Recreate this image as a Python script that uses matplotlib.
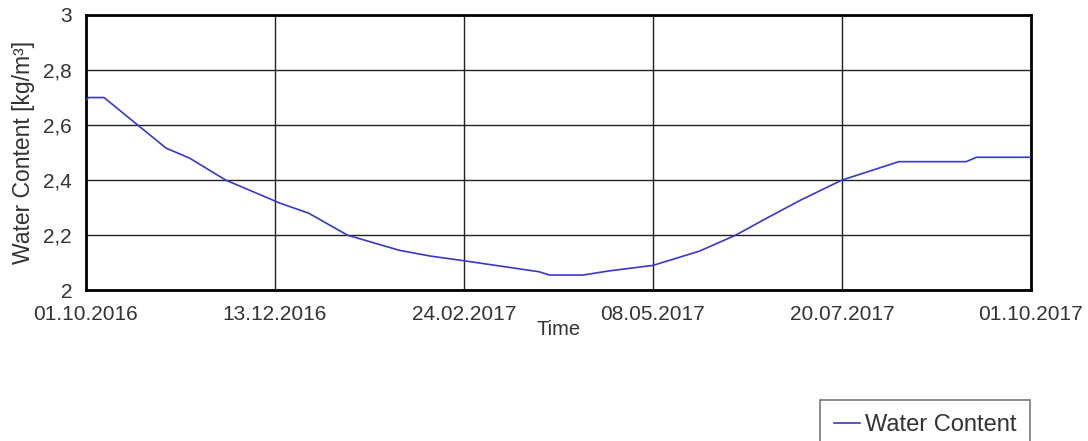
import matplotlib.pyplot as plt
import matplotlib.dates as mdates
import pandas as pd

plt.rcParams['font.family'] = ['Liberation Sans', 'DejaVu Sans']

# Water content readings
dates = ["2016-10-01", "2016-10-02", "2016-10-08", "2016-10-21", "2016-11-01",
         "2016-11-10", "2016-11-24", "2016-12-15", "2016-12-26", "2017-01-10",
         "2017-01-30", "2017-02-11", "2017-02-24", "2017-03-25", "2017-03-29",
         "2017-04-11", "2017-04-21", "2017-05-08", "2017-05-26", "2017-06-09",
         "2017-06-22", "2017-07-04", "2017-07-20", "2017-08-11", "2017-09-06",
         "2017-09-10", "2017-10-01"]
water = [2.69, 2.70, 2.70, 2.60, 2.516,
         2.48, 2.40, 2.316, 2.28, 2.20,
         2.145, 2.124, 2.107, 2.067, 2.055,
         2.055, 2.07, 2.09, 2.142, 2.20,
         2.267, 2.327, 2.40, 2.467, 2.467,
         2.483, 2.483]

x_ticks = ["2016-10-01", "2016-12-13", "2017-02-24", "2017-05-08", "2017-07-20", "2017-10-01"]
x_labels = ["01.10.2016", "13.12.2016", "24.02.2017", "08.05.2017", "20.07.2017", "01.10.2017"]
y_ticks = [2, 2.2, 2.4, 2.6, 2.8, 3]
y_labels = ["2", "2,2", "2,4", "2,6", "2,8", "3"]

t = pd.to_datetime(dates)
xt = pd.to_datetime(x_ticks)

fig = plt.figure(figsize=(10.88, 4.41), dpi=100)
ax = fig.add_axes([0.079, 0.342, 0.8685, 0.624])

ax.plot(t, water, color="#3838cc", linewidth=1.2, label="Water Content", zorder=3)

ax.set_xlim(xt[0], xt[-1])
ax.set_ylim(2, 3)
ax.set_xticks(xt)
ax.set_xticklabels(x_labels)
ax.set_yticks(y_ticks)
ax.set_yticklabels(y_labels)
ax.tick_params(length=0, labelsize=15, labelcolor="#333333")
ax.tick_params(axis="x", pad=11)
ax.tick_params(axis="y", pad=10)
ax.grid(True, color="#222222", linewidth=1.0)
for s in ax.spines.values():
    s.set_linewidth(2.0)
    s.set_color("black")

ax.set_xlabel("Time", fontsize=14.5, color="#333333", labelpad=-3)
ax.set_ylabel("Water Content [kg/m³]", fontsize=16.5, color="#333333", labelpad=6)

leg = fig.legend(loc="upper right", bbox_to_anchor=(0.947, 0.093), fontsize=17,
                 frameon=True, fancybox=False, edgecolor="#555555",
                 handlelength=1.1, handletextpad=0.2, borderpad=0.6,
                 borderaxespad=0)
leg.get_frame().set_linewidth(1.2)
for txt in leg.get_texts():
    txt.set_color("#333333")

fig.savefig("out.png", dpi=100)
